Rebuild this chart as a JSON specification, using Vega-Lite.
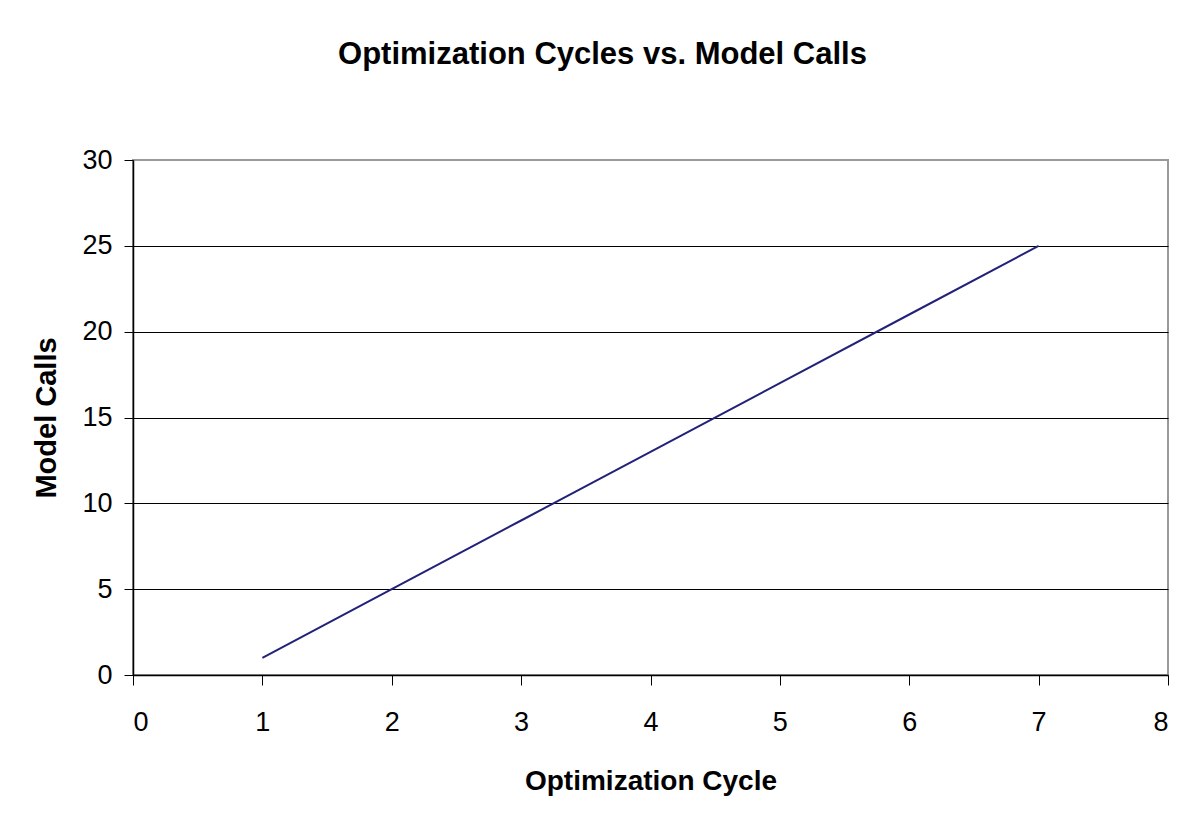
{
  "$schema": "https://vega.github.io/schema/vega-lite/v6.json",
  "autosize": {"type": "none"},
  "width": 1035,
  "height": 515,
  "padding": {"left": 133, "top": 160, "right": 25, "bottom": 164},
  "background": "white",
  "title": {
    "text": "Optimization Cycles vs. Model Calls",
    "font": "Liberation Sans",
    "fontSize": 31,
    "fontWeight": "bold",
    "color": "black",
    "anchor": "middle",
    "dx": -48,
    "offset": 75
  },
  "data": {
    "values": [
      {"cycle": 1, "calls": 1},
      {"cycle": 2, "calls": 5},
      {"cycle": 3, "calls": 9},
      {"cycle": 4, "calls": 13},
      {"cycle": 5, "calls": 17},
      {"cycle": 6, "calls": 21},
      {"cycle": 7, "calls": 25}
    ]
  },
  "mark": {"type": "line", "color": "#22227a", "strokeWidth": 2},
  "encoding": {
    "x": {
      "field": "cycle",
      "type": "quantitative",
      "scale": {"domain": [0, 8], "nice": false, "zero": false},
      "axis": {
        "title": "Optimization Cycle",
        "values": [0, 1, 2, 3, 4, 5, 6, 7, 8],
        "grid": false,
        "domainColor": "black",
        "domainWidth": 1.5,
        "tickColor": "black",
        "tickSize": 10,
        "labelFont": "Liberation Sans",
        "labelFontSize": 27,
        "labelColor": "black",
        "labelPadding": 24,
        "titleFont": "Liberation Sans",
        "titleFontSize": 28,
        "titleFontWeight": "bold",
        "titleColor": "black",
        "titlePadding": 32
      }
    },
    "y": {
      "field": "calls",
      "type": "quantitative",
      "scale": {"domain": [0, 30], "nice": false},
      "axis": {
        "title": "Model Calls",
        "values": [0, 5, 10, 15, 20, 25, 30],
        "grid": true,
        "gridColor": {"condition": {"test": "datum.value == 30", "value": "#999999"}, "value": "black"},
        "gridWidth": 1,
        "domainColor": "black",
        "domainWidth": 1.5,
        "tickColor": "black",
        "tickSize": 9,
        "labelFont": "Liberation Sans",
        "labelFontSize": 27,
        "labelColor": "black",
        "labelPadding": 12,
        "titleFont": "Liberation Sans",
        "titleFontSize": 29,
        "titleFontWeight": "bold",
        "titleColor": "black",
        "titlePadding": 20
      }
    }
  },
  "config": {
    "view": {"stroke": "#999999", "strokeWidth": 2}
  }
}
